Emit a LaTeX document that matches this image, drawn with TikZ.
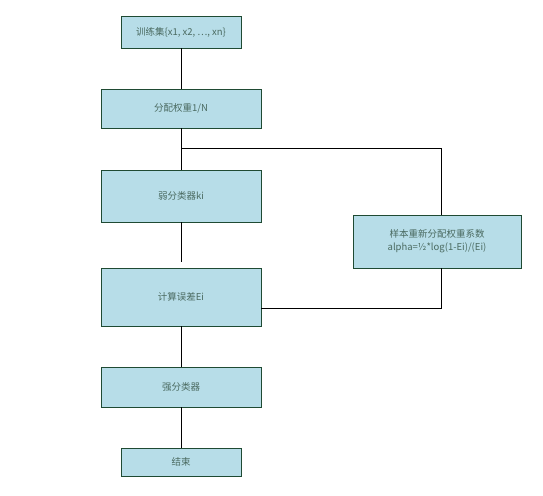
\documentclass[tikz,border=0pt]{standalone}
\usepackage{fontspec}
\setmainfont{Noto Sans CJK SC}
\usetikzlibrary{positioning,calc}
\definecolor{boxfill}{HTML}{B7DDE8}
\definecolor{boxline}{HTML}{1F4A33}
\definecolor{boxtext}{HTML}{4A6A60}
\tikzset{
  box/.style={draw=boxline, fill=boxfill, align=center, text=boxtext,
              font=\fontsize{9.5}{13}\selectfont, inner sep=2pt, line width=0.8pt},
  widebox/.style={box, minimum width=160pt},
  smallbox/.style={box, minimum width=120pt},
  ln/.style={draw=black, line width=0.7pt}
}
\begin{document}
\begin{tikzpicture}[x=1pt,y=-1pt]
  \useasboundingbox (0,0) rectangle (543,495);
  % main column
  \node[smallbox, minimum height=32pt] (train) at (181,32) {训练集\{x1, x2, ⋯, xn\}};
  \node[widebox, minimum height=39pt] (init) at (181,108.5) {分配权重1/N};
  \node[widebox, minimum height=52pt] (weak) at (181,196) {弱分类器ki};
  \node[widebox, minimum height=58pt] (err) at (181,297) {计算误差Ei};
  \node[widebox, minimum height=40pt] (strong) at (181,387) {强分类器};
  \node[smallbox, minimum height=28pt] (stop) at (181,462) {结束};
  % feedback box
  \node[box, minimum width=168pt, minimum height=53pt] (rew) at (437,241.5)
    {样本重新分配权重系数\\alpha=½*log(1-Ei)/(Ei)};
  \coordinate (split) at (181,148);
  \coordinate (gap) at (181,262);
  % connectors
  \draw[ln] (train) -- (init);
  \draw[ln] (init) -- (weak);
  \draw[ln] (split) -| ($(rew.north)+(4,0)$);
  \draw[ln] (weak) -- (gap);
  \draw[ln] ($(rew.south)+(4,0)$) |- (err.east |- 0,308);
  \draw[ln] (err) -- (strong);
  \draw[ln] (strong) -- (stop);
\end{tikzpicture}
\end{document}
